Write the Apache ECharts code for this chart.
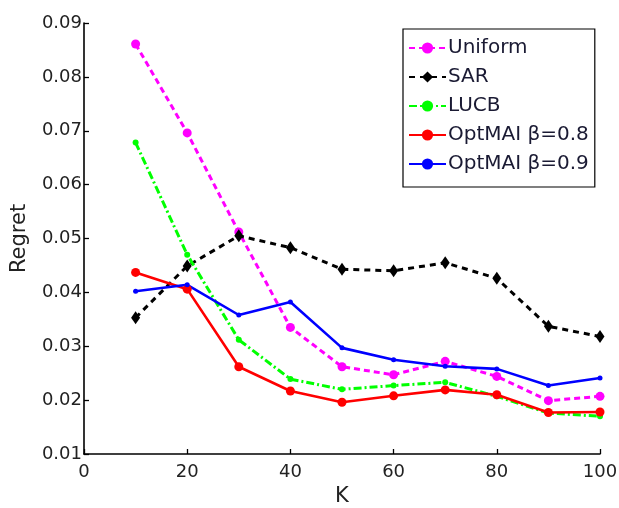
<!DOCTYPE html>
<html>
<head>
<meta charset="utf-8">
<script src="https://cdn.jsdelivr.net/npm/echarts@6/dist/echarts.min.js"></script>
<style>
  html, body { margin: 0; padding: 0; background: #fff; }
  #chart { width: 619px; height: 508px; }
</style>
</head>
<body>
<div id="chart"></div>
<script>
// Regret versus number of arms K
const kValues = [10, 20, 30, 40, 50, 60, 70, 80, 90, 100];
const uniform = [0.0861, 0.0696, 0.0512, 0.0335, 0.0262, 0.0247, 0.0272, 0.0244, 0.0199, 0.0207];
const sar     = [0.0353, 0.0449, 0.0505, 0.0483, 0.0443, 0.0440, 0.0455, 0.0426, 0.0337, 0.0318];
const lucb    = [0.0678, 0.0470, 0.0312, 0.0239, 0.0220, 0.0227, 0.0233, 0.0207, 0.0176, 0.0170];
const optmai08 = [0.0437, 0.0406, 0.0262, 0.0217, 0.0196, 0.0208, 0.0219, 0.0210, 0.0177, 0.0178];
const optmai09 = [0.0402, 0.0414, 0.0358, 0.0382, 0.0297, 0.0275, 0.0263, 0.0258, 0.0227, 0.0241];
const xTicks = [0, 20, 40, 60, 80, 100];
const yTicks = [0.01, 0.02, 0.03, 0.04, 0.05, 0.06, 0.07, 0.08, 0.09];

const pairs = vals => kValues.map((k, i) => [k, vals[i]]);
const FONT = '"DejaVu Sans", sans-serif';

const chart = echarts.init(document.getElementById('chart'), null, { renderer: 'canvas' });

chart.setOption({
  animation: false,
  backgroundColor: '#fff',
  grid: { left: 84, right: 19, top: 23, bottom: 54, containLabel: false, outerBoundsMode: 'none' },
  xAxis: {
    type: 'value',
    min: xTicks[0],
    max: xTicks[xTicks.length - 1],
    interval: 20,
    name: 'K',
    nameLocation: 'middle',
    nameGap: 31,
    nameTextStyle: { fontFamily: FONT, fontSize: 21, color: '#222' },
    axisLine: { lineStyle: { color: '#000', width: 1.6 } },
    axisTick: { inside: true, length: 5, lineStyle: { color: '#000', width: 1.3 } },
    axisLabel: { fontFamily: FONT, fontSize: 18, color: '#222', margin: 9 },
    splitLine: { show: false }
  },
  yAxis: {
    type: 'value',
    min: yTicks[0],
    max: yTicks[yTicks.length - 1],
    interval: 0.01,
    name: 'Regret',
    nameLocation: 'middle',
    nameGap: 54,
    nameRotate: 90,
    nameTextStyle: { fontFamily: FONT, fontSize: 21, color: '#222' },
    axisLine: { show: true, lineStyle: { color: '#000', width: 1.6 } },
    axisTick: { show: true, inside: true, length: 5, lineStyle: { color: '#000', width: 1.3 } },
    axisLabel: {
      fontFamily: FONT, fontSize: 18, color: '#222', margin: 2,
      formatter: v => v.toFixed(2)
    },
    splitLine: { show: false }
  },
  legend: {
    left: 403,
    top: 29,
    orient: 'vertical',
    backgroundColor: '#fff',
    borderColor: '#000',
    borderWidth: 1.2,
    padding: [9, 6, 13, 5],
    itemWidth: 37,
    itemHeight: 14,
    itemGap: 9,
    textStyle: { fontFamily: FONT, fontSize: 20, color: '#1a1a33', padding: [0, 0, 0, -3] },
    data: ['Uniform', 'SAR', 'LUCB', 'OptMAI β=0.8', 'OptMAI β=0.9']
  },
  series: [
    {
      name: 'Uniform', type: 'line', data: pairs(uniform),
      symbol: 'circle', symbolSize: 9,
      lineStyle: { color: '#ff00ff', width: 3, type: [6, 4] },
      itemStyle: { color: '#ff00ff' }
    },
    {
      name: 'SAR', type: 'line', data: pairs(sar),
      symbol: 'diamond', symbolSize: [9, 13],
      lineStyle: { color: '#000', width: 3, type: [6, 5] },
      itemStyle: { color: '#000' }
    },
    {
      name: 'LUCB', type: 'line', data: pairs(lucb),
      symbol: 'circle', symbolSize: 6,
      lineStyle: { color: '#00ff00', width: 3, type: [8, 3, 2, 3] },
      itemStyle: { color: '#00ff00' }
    },
    {
      name: 'OptMAI β=0.8', type: 'line', data: pairs(optmai08),
      symbol: 'circle', symbolSize: 9,
      lineStyle: { color: '#ff0000', width: 2.6 },
      itemStyle: { color: '#ff0000' }
    },
    {
      name: 'OptMAI β=0.9', type: 'line', data: pairs(optmai09),
      symbol: 'circle', symbolSize: 5,
      lineStyle: { color: '#0000ff', width: 2.6 },
      itemStyle: { color: '#0000ff' }
    }
  ]
});
</script>
</body>
</html>
